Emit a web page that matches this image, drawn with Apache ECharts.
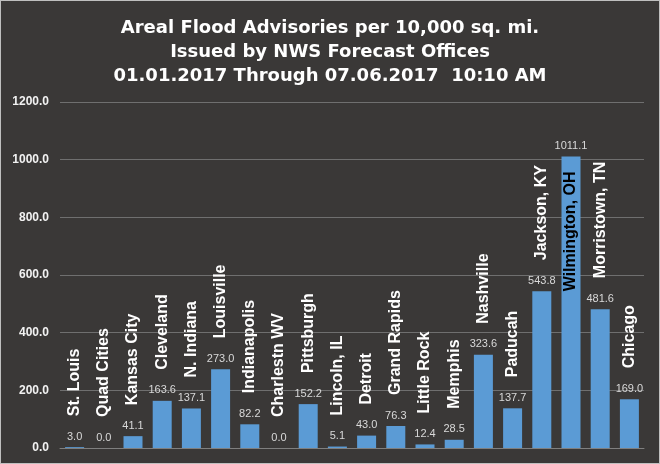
<!DOCTYPE html>
<html><head><meta charset="utf-8">
<script src="https://cdn.jsdelivr.net/npm/echarts@6/dist/echarts.min.js"></script>
<style>
html,body{margin:0;padding:0;background:#3a3837;}
#c{width:660px;height:464px;box-sizing:border-box;border:1px solid #bfbfbf;}
</style></head>
<body><div id="c"></div>
<script>
const offices = ['St. Louis','Quad Cities','Kansas City','Cleveland','N. Indiana','Louisville','Indianapolis','Charlestn WV','Pittsburgh','Lincoln, IL','Detroit','Grand Rapids','Little Rock','Memphis','Nashville','Paducah','Jackson, KY','Wilmington, OH','Morristown, TN','Chicago'];
const values = [3.0,0.0,41.1,163.6,137.1,273.0,82.2,0.0,152.2,5.1,43.0,76.3,12.4,28.5,323.6,137.7,543.8,1011.1,481.6,169.0];
const yTicks = [0,200,400,600,800,1000,1200];
const titleLines = ['Areal Flood Advisories per 10,000 sq. mi.','Issued by NWS Forecast Offices','01.01.2017 Through 07.06.2017  10:10 AM'];
const insideLabelIndex = offices.indexOf('Wilmington, OH');

const chart = echarts.init(document.getElementById('c'));
const nameData = values.map((v,i)=> i===insideLabelIndex ? {
  value:v,
  label:{position:'insideTop',align:'right',distance:15,color:'#000000'}
} : v);
chart.setOption({
  backgroundColor:'#3a3837',
  animation:false,
  title:{
    text:titleLines.join('\n'),
    left:'center',top:10,
    textStyle:{color:'#ffffff',fontSize:18,fontWeight:'bold',fontFamily:'DejaVu Sans',lineHeight:24}
  },
  grid:{left:59,right:15,top:101,bottom:15,containLabel:false},
  xAxis:{
    type:'category',data:offices,
    axisLine:{lineStyle:{color:'#7f7f7f'}},
    axisTick:{show:false},axisLabel:{show:false}
  },
  yAxis:{
    type:'value',min:yTicks[0],max:yTicks[yTicks.length-1],interval:200,
    axisLine:{show:false},axisTick:{show:false},
    splitLine:{lineStyle:{color:'#6f6f6f',width:1}},
    axisLabel:{color:'#f2f2f2',fontSize:12,fontWeight:'bold',fontFamily:'Liberation Sans, Arial',margin:11,
      formatter:v=>v.toFixed(1)}
  },
  series:[
    {
      type:'bar',data:values,barWidth:19,
      itemStyle:{color:'#5b9bd5'},
      label:{show:true,position:'top',distance:5,color:'#d9d9d9',fontSize:11,fontFamily:'Liberation Sans, Arial',
        formatter:p=>p.value.toFixed(1)}
    },
    {
      type:'bar',data:nameData,barWidth:19,barGap:'-100%',
      itemStyle:{color:'rgba(0,0,0,0)'},
      silent:true,
      label:{show:true,position:'top',rotate:90,align:'left',verticalAlign:'middle',distance:31,
        color:'#ffffff',fontSize:16,fontWeight:'bold',fontFamily:'Liberation Sans, Arial',
        formatter:p=>offices[p.dataIndex]}
    }
  ]
});
</script></body></html>
